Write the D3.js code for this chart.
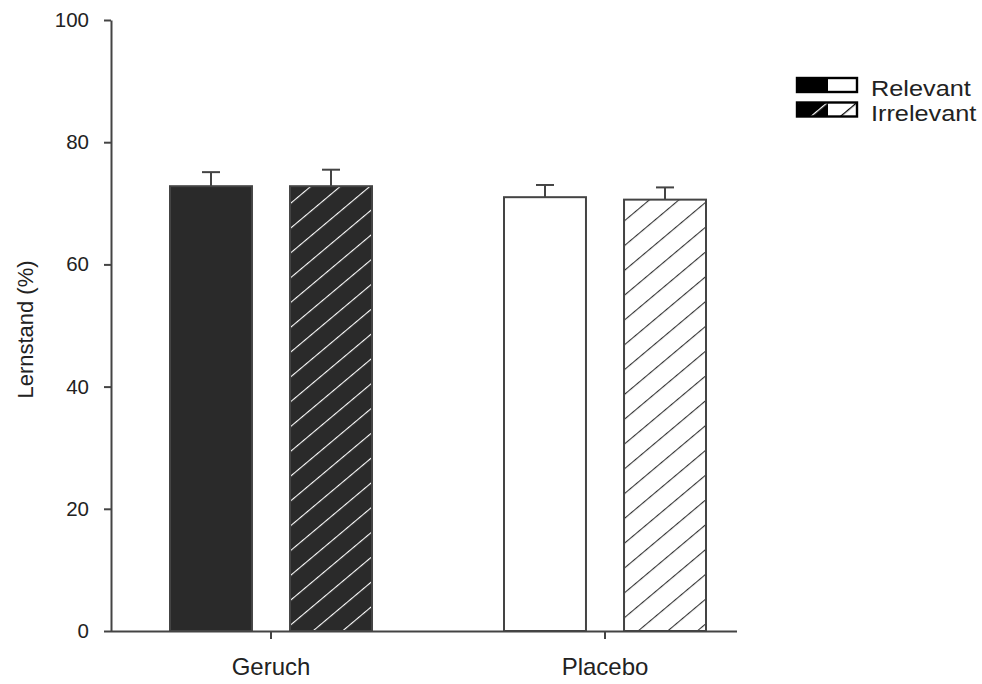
<!DOCTYPE html>
<html>
<head>
<meta charset="utf-8">
<script src="https://cdn.jsdelivr.net/npm/d3@7"></script>
<style>
  body { margin: 0; background: #fff; }
  text { font-family: "Liberation Sans", Arial, sans-serif; fill: #222; }
</style>
</head>
<body>
<svg id="chart" width="982" height="684"></svg>
<script>
const groups = ['Geruch', 'Placebo'];
const conditions = ['Relevant', 'Irrelevant'];
// mean values (%) per group, in the order of conditions
const geruchMeans = [72.8, 72.8];
const placeboMeans = [71.0, 70.6];
// upper error bar (SEM) per group
const geruchErr = [2.3, 2.7];
const placeboErr = [2.0, 2.0];
const yTicks = [0, 20, 40, 60, 80, 100];

const data = [];
groups.forEach((g, gi) => {
    const means = gi === 0 ? geruchMeans : placeboMeans;
    const errs = gi === 0 ? geruchErr : placeboErr;
    conditions.forEach((c, ci) => {
        data.push({ group: g, cond: c, value: means[ci], err: errs[ci] });
    });
});

const svg = d3.select('#chart');
const axisColor = '#444';

const y = d3.scaleLinear().domain([0, 100]).range([631, 20]);
const x = d3.scaleBand().domain(groups).range([104, 772]);
const xi = d3.scaleBand().domain(conditions).range([-101, 101]).paddingInner(0.317);

// hatch patterns
const defs = svg.append('defs');
function hatch(id, bg, fg, w) {
    const p = defs.append('pattern')
        .attr('id', id)
        .attr('patternUnits', 'userSpaceOnUse')
        .attr('width', 19).attr('height', 19)
        .attr('patternTransform', 'rotate(50)');
    p.append('rect').attr('width', 19).attr('height', 19).attr('fill', bg);
    p.append('line')
        .attr('x1', 0).attr('y1', 0).attr('x2', 0).attr('y2', 19)
        .attr('stroke', fg).attr('stroke-width', w);
}
hatch('hatchDark', '#2a2a2a', '#fff', 2.2);
hatch('hatchLight', '#fff', '#333', 2.2);
hatch('hatchLegDark', '#000', '#fff', 2.5);
hatch('hatchLegLight', '#fff', '#000', 2.5);

function fillFor(d) {
    const dark = d.group === 'Geruch';
    if (d.cond === 'Relevant') return dark ? '#2a2a2a' : '#fff';
    return dark ? 'url(#hatchDark)' : 'url(#hatchLight)';
}

// error bars (drawn first so the bar covers the stem base)
const eb = svg.append('g').attr('stroke', axisColor).attr('stroke-width', 2);
data.forEach(d => {
    const cx = x(d.group) + x.bandwidth() / 2 + xi(d.cond) + xi.bandwidth() / 2;
    eb.append('line')
        .attr('x1', cx).attr('x2', cx)
        .attr('y1', y(d.value)).attr('y2', y(d.value + d.err));
    eb.append('line')
        .attr('x1', cx - 9).attr('x2', cx + 9)
        .attr('y1', y(d.value + d.err)).attr('y2', y(d.value + d.err));
});

// bars
svg.append('g')
    .selectAll('rect')
    .data(data)
    .join('rect')
    .attr('x', d => x(d.group) + x.bandwidth() / 2 + xi(d.cond))
    .attr('y', d => y(d.value))
    .attr('width', xi.bandwidth())
    .attr('height', d => y(0) - y(d.value))
    .attr('fill', fillFor)
    .attr('stroke', axisColor)
    .attr('stroke-width', 2);

// y axis
const yAxis = svg.append('g')
    .attr('transform', 'translate(111,0)')
    .call(d3.axisLeft(y).tickValues(yTicks).tickSize(7).tickPadding(15).tickSizeOuter(0));
yAxis.select('.domain').attr('stroke', axisColor).attr('stroke-width', 2);
yAxis.selectAll('.tick line').attr('stroke', axisColor).attr('stroke-width', 2);
yAxis.selectAll('.tick text')
    .style('font-size', '20.5px')
    .style('font-family', '"Liberation Sans", Arial, sans-serif')
    .attr('fill', '#222');

// x axis
const xAxis = svg.append('g')
    .attr('transform', `translate(0,${y(0)})`)
    .call(d3.axisBottom(x).tickSize(8).tickPadding(19).tickSizeOuter(0));
xAxis.select('.domain').attr('d', 'M111,0.5H737').attr('stroke', axisColor).attr('stroke-width', 2);
xAxis.selectAll('.tick line').attr('stroke', axisColor).attr('stroke-width', 2);
xAxis.selectAll('.tick text')
    .style('font-size', '24px')
    .style('font-family', '"Liberation Sans", Arial, sans-serif')
    .attr('fill', '#222');

// y label
svg.append('text')
    .attr('transform', `translate(33,${(y(0) + y(100)) / 2 + 4}) rotate(-90)`)
    .attr('text-anchor', 'middle')
    .style('font-size', '22px')
    .text('Lernstand (%)');

// legend
const legend = svg.append('g').attr('transform', 'translate(797,78)');
conditions.forEach((c, i) => {
    const row = legend.append('g').attr('transform', `translate(0,${i * 24.5})`);
    row.append('rect').attr('x', 0).attr('y', 0).attr('width', 31).attr('height', 14)
        .attr('fill', c === 'Relevant' ? '#000' : 'url(#hatchLegDark)');
    row.append('rect').attr('x', 31).attr('y', 0).attr('width', 29).attr('height', 14)
        .attr('fill', c === 'Relevant' ? '#fff' : 'url(#hatchLegLight)');
    row.append('rect').attr('x', 0).attr('y', 0).attr('width', 60).attr('height', 14)
        .attr('fill', 'none').attr('stroke', '#000').attr('stroke-width', 2.4);
    row.append('text')
        .attr('transform', 'translate(74,18) scale(1.15,1)')
        .style('font-size', '22px')
        .text(c);
});
</script>
</body>
</html>
